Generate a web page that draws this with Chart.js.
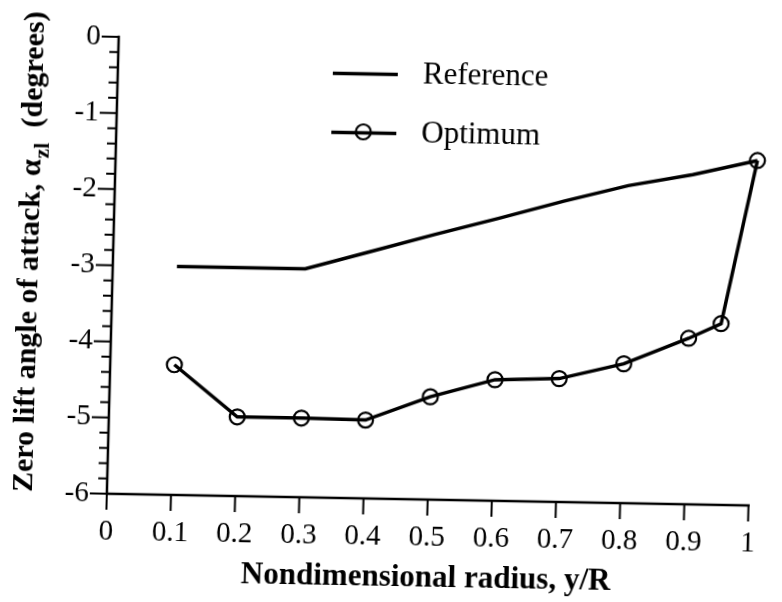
<!DOCTYPE html>
<html>
<head>
<meta charset="utf-8">
<script src="https://cdn.jsdelivr.net/npm/chart.js@4/dist/chart.umd.min.js"></script>
<style>
  html, body { margin: 0; padding: 0; background: #fff; overflow: hidden; }
  #wrap { width: 782px; height: 602px; position: relative; }
  /* the plotted sheet sits slightly askew on the page */
  #chart { display: block; transform-origin: 391px 301px; transform: matrix(1, 0.0183, -0.026, 1, 0, 0); }
</style>
</head>
<body>
<div id="wrap"><canvas id="chart" width="782" height="602"></canvas></div>
<script>
// Nondimensional radius stations
const radiusOptimum   = [0.1, 0.2, 0.3, 0.4, 0.5, 0.6, 0.7, 0.8, 0.9, 0.95, 1.0];
const radiusReference = [0.1, 0.2, 0.3, 0.4, 0.5, 0.6, 0.7, 0.8, 0.9, 1.0];

// Zero lift angle of attack (degrees)
const alphaOptimum   = [-4.29, -4.96, -4.96, -4.97, -4.65, -4.41, -4.38, -4.17, -3.82, -3.62, -1.47];
const alphaReference = [-3.0, -3.0, -3.0, -2.76, -2.52, -2.29, -2.05, -1.83, -1.67, -1.47];

// Axis tick labels
const xTickLabels = ['0', '0.1', '0.2', '0.3', '0.4', '0.5', '0.6', '0.7', '0.8', '0.9', '1'];
const yTickLabels = ['0', '-1', '-2', '-3', '-4', '-5', '-6'];

const seriesNames = ['Reference', 'Optimum'];
const xTitle = 'Nondimensional radius, y/R';

const SERIF = "'Liberation Serif', 'Times New Roman', serif";
const INK = '#000';

function pts(xs, ys) { return xs.map((x, i) => ({ x: x, y: ys[i] })); }

// Axis lines, tick marks, titles and the legend box
const decorations = {
  id: 'decorations',
  afterDatasetsDraw(chart) {
    const ctx = chart.ctx;
    const xs = chart.scales.x, ys = chart.scales.y;
    const left = xs.getPixelForValue(0), right = xs.getPixelForValue(1);
    const top = ys.getPixelForValue(0), bottom = ys.getPixelForValue(-6);
    ctx.save();
    ctx.strokeStyle = INK;
    ctx.lineCap = 'square';
    ctx.lineWidth = 2.5;
    ctx.beginPath();
    ctx.moveTo(left, top); ctx.lineTo(left, bottom);
    ctx.moveTo(left, bottom); ctx.lineTo(right, bottom);
    ctx.stroke();

    // y ticks: major every degree, minor every 0.2
    ctx.lineWidth = 2;
    ctx.beginPath();
    for (let k = 0; k <= 30; k++) {
      const v = -k * 0.2;
      const py = ys.getPixelForValue(v);
      const len = (k % 5 === 0) ? 16 : 8;
      ctx.moveTo(left, py); ctx.lineTo(left - len, py);
    }
    // x ticks every 0.1
    for (let k = 0; k <= 10; k++) {
      const px = xs.getPixelForValue(k / 10);
      ctx.moveTo(px, bottom); ctx.lineTo(px, bottom + 15);
    }
    ctx.stroke();

    // x title
    ctx.fillStyle = INK;
    ctx.font = "bold 31px " + SERIF;
    ctx.textAlign = 'center';
    ctx.textBaseline = 'middle';
    ctx.fillText(xTitle, (left + right) / 2, 578);

    // y title with subscript
    const partA = 'Zero lift angle of attack, \u03b1';
    const partSub = 'zl';
    const partB = '  (degrees)';
    const fMain = "bold 30px " + SERIF, fSub = "bold 22px " + SERIF;
    ctx.font = fMain; const wA = ctx.measureText(partA).width; const wB = ctx.measureText(partB).width;
    ctx.font = fSub; const wS = ctx.measureText(partSub).width;
    const total = wA + wS + wB;
    ctx.translate(27, 259);
    ctx.rotate(-Math.PI / 2);
    ctx.textAlign = 'left';
    ctx.textBaseline = 'alphabetic';
    let cx = -total / 2;
    ctx.font = fMain; ctx.fillText(partA, cx, 10); cx += wA;
    ctx.font = fSub; ctx.fillText(partSub, cx + 1, 18); cx += wS + 1;
    ctx.font = fMain; ctx.fillText(partB, cx, 10);
    ctx.restore();

    // legend
    ctx.save();
    ctx.strokeStyle = INK; ctx.fillStyle = INK;
    ctx.lineWidth = 3.5;
    ctx.beginPath();
    ctx.moveTo(327, 74.5); ctx.lineTo(392, 74.5);
    ctx.moveTo(327, 133.5); ctx.lineTo(392, 133.5);
    ctx.stroke();
    ctx.lineWidth = 2.2;
    ctx.beginPath();
    ctx.arc(359, 132.5, 7.5, 0, Math.PI * 2);
    ctx.stroke();
    ctx.font = "31px " + SERIF;
    ctx.textAlign = 'left';
    ctx.textBaseline = 'middle';
    ctx.fillText(seriesNames[0], 417, 75);
    ctx.fillText(seriesNames[1], 417, 134);
    ctx.restore();
  }
};

const whiteBg = {
  id: 'whiteBg',
  beforeDraw(chart) {
    const c = chart.ctx;
    c.save(); c.fillStyle = '#fff'; c.fillRect(0, 0, chart.width, chart.height); c.restore();
  }
};

new Chart(document.getElementById('chart'), {
  type: 'line',
  data: {
    datasets: [
      {
        label: seriesNames[0],
        data: pts(radiusReference, alphaReference),
        borderColor: INK, borderWidth: 3.5, pointRadius: 0, fill: false, tension: 0, clip: false
      },
      {
        label: seriesNames[1],
        data: pts(radiusOptimum, alphaOptimum),
        borderColor: INK, borderWidth: 3.5, fill: false, tension: 0, clip: false,
        pointRadius: 7.5, pointBorderWidth: 2.2,
        pointBackgroundColor: 'rgba(0,0,0,0)', pointBorderColor: INK
      }
    ]
  },
  options: {
    responsive: false,
    animation: false,
    devicePixelRatio: 1,
    layout: { padding: { top: 42, right: 12, left: 0, bottom: 0 } },
    plugins: { legend: { display: false }, tooltip: { enabled: false }, title: { display: false } },
    scales: {
      x: {
        type: 'linear', min: 0, max: 1,
        border: { display: false },
        grid: { display: false, drawTicks: false },
        ticks: {
          stepSize: 0.1, autoSkip: false, maxRotation: 0, padding: 21,
          color: INK, font: { family: SERIF, size: 29 },
          callback: (v) => xTickLabels[Math.round(v * 10)]
        },
        afterFit: (s) => { s.height = 103; }
      },
      y: {
        type: 'linear', min: -6, max: 0,
        border: { display: false },
        grid: { display: false, drawTicks: false },
        ticks: {
          stepSize: 0.2, autoSkip: false, padding: 18,
          color: INK, font: { family: SERIF, size: 29 },
          callback: (v) => {
            const r = Math.round(v);
            return Math.abs(v - r) < 1e-6 ? yTickLabels[-r] : '';
          }
        },
        afterFit: (s) => { s.width = 112; }
      }
    }
  },
  plugins: [whiteBg, decorations]
});
</script>
</body>
</html>
